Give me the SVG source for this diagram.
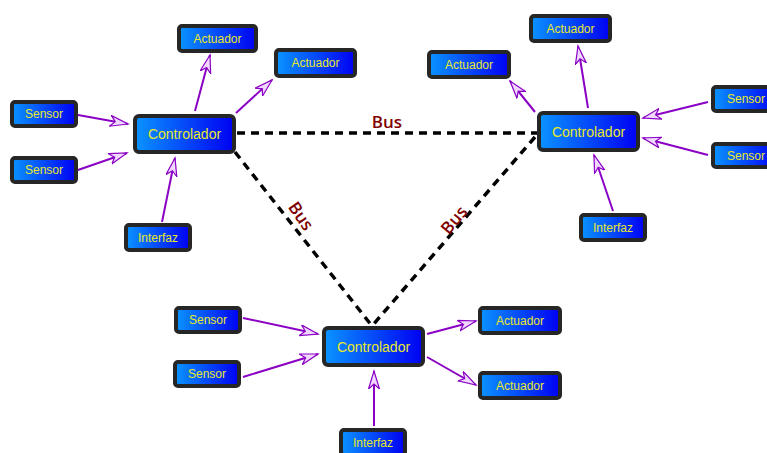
<svg xmlns="http://www.w3.org/2000/svg" width="767" height="453" viewBox="0 0 767 453">
<style>
.box{fill:url(#g);stroke:#262626;stroke-width:4}
.t{font-family:"Liberation Sans",Arial,sans-serif;fill:#e8e82a;text-anchor:middle}
.s{font-size:12px}
.c{font-size:14px}
.a{stroke:#8a00c4;stroke-width:2;fill:none;marker-end:url(#ah)}
.bus{stroke:#000;stroke-width:3.5;stroke-dasharray:8 6;fill:none}
.bl{font-family:"Open Sans","Liberation Sans",Arial,sans-serif;font-weight:600;font-size:17px;fill:#800000;text-anchor:middle}
</style>
<defs>
<linearGradient id="g" x1="0" y1="0" x2="1" y2="0">
<stop offset="0" stop-color="#0a94ff"/>
<stop offset="1" stop-color="#0000f2"/>
</linearGradient>
<marker id="ah" markerUnits="userSpaceOnUse" markerWidth="22" markerHeight="14" refX="18" refY="6" orient="auto">
<path d="M0,0.5 L18,6 L0,11.5 L5,6 Z" fill="#f0d8ff" stroke="#8a00c4" stroke-width="1.2"/>
</marker>
</defs>
<rect width="767" height="453" fill="#fff"/>
<g id="connectors">
<line class="bus" x1="237" y1="133" x2="537" y2="133"/>
<line class="bus" x1="235" y1="152" x2="372" y2="326"/>
<line class="bus" x1="535" y1="137" x2="372" y2="326"/>
<line class="a" x1="78" y1="115" x2="128" y2="124"/>
<line class="a" x1="78" y1="170" x2="127" y2="153"/>
<line class="a" x1="162" y1="222" x2="175" y2="158"/>
<line class="a" x1="195" y1="111" x2="210" y2="55"/>
<line class="a" x1="236" y1="113" x2="272" y2="80"/>
<line class="a" x1="535" y1="112" x2="510" y2="81"/>
<line class="a" x1="588" y1="108" x2="578" y2="46"/>
<line class="a" x1="708" y1="102" x2="643" y2="118"/>
<line class="a" x1="708" y1="155" x2="643" y2="138"/>
<line class="a" x1="613" y1="211" x2="594" y2="155"/>
<line class="a" x1="243" y1="318" x2="318" y2="334"/>
<line class="a" x1="243" y1="377" x2="318" y2="354"/>
<line class="a" x1="427" y1="334" x2="476" y2="321"/>
<line class="a" x1="427" y1="357" x2="476" y2="385"/>
<line class="a" x1="374" y1="426" x2="374" y2="371"/>
<text class="bl" x="387" y="128">Bus</text>
<text class="bl" x="0" y="6" transform="translate(301,216) rotate(55)">Bus</text>
<text class="bl" x="0" y="6" transform="translate(454,220) rotate(-50)">Bus</text>
</g>
<g id="ctrl1"><rect class="box" x="135" y="116" width="99" height="36" rx="4"/><text class="t c" x="184.5" y="139">Controlador</text></g>
<g id="act1a"><rect class="box" x="179" y="26" width="77" height="25" rx="3"/><text class="t s" x="217.5" y="42.5">Actuador</text></g>
<g id="act1b"><rect class="box" x="276" y="50" width="79" height="26" rx="3"/><text class="t s" x="315.5" y="67">Actuador</text></g>
<g id="sen1a"><rect class="box" x="12" y="102" width="64" height="24" rx="3"/><text class="t s" x="44" y="118">Sensor</text></g>
<g id="sen1b"><rect class="box" x="12" y="158" width="64" height="24" rx="3"/><text class="t s" x="44" y="174">Sensor</text></g>
<g id="int1"><rect class="box" x="126" y="225" width="64" height="25" rx="3"/><text class="t s" x="158" y="241.5">Interfaz</text></g>
<g id="ctrl2"><rect class="box" x="539" y="113" width="99" height="37" rx="4"/><text class="t c" x="588.5" y="136.5">Controlador</text></g>
<g id="act2a"><rect class="box" x="531" y="16" width="79" height="25" rx="3"/><text class="t s" x="570.5" y="32.5">Actuador</text></g>
<g id="act2b"><rect class="box" x="429" y="52" width="80" height="25" rx="3"/><text class="t s" x="469" y="68.5">Actuador</text></g>
<g id="sen2a"><rect class="box" x="713" y="87" width="64" height="24" rx="3"/><text class="t s" x="746" y="103">Sensor</text></g>
<g id="sen2b"><rect class="box" x="713" y="144" width="64" height="23" rx="3"/><text class="t s" x="746" y="159.5">Sensor</text></g>
<g id="int2"><rect class="box" x="581" y="215" width="64" height="25" rx="3"/><text class="t s" x="613" y="231.5">Interfaz</text></g>
<g id="ctrl3"><rect class="box" x="324" y="328" width="99" height="37" rx="4"/><text class="t c" x="373.5" y="351.5">Controlador</text></g>
<g id="sen3a"><rect class="box" x="176" y="308" width="64" height="24" rx="3"/><text class="t s" x="208" y="324">Sensor</text></g>
<g id="sen3b"><rect class="box" x="175" y="362" width="64" height="24" rx="3"/><text class="t s" x="207" y="378">Sensor</text></g>
<g id="act3a"><rect class="box" x="480" y="308" width="80" height="25" rx="3"/><text class="t s" x="520" y="324.5">Actuador</text></g>
<g id="act3b"><rect class="box" x="480" y="373" width="80" height="25" rx="3"/><text class="t s" x="520" y="389.5">Actuador</text></g>
<g id="int3"><rect class="box" x="341" y="430" width="64" height="25" rx="3"/><text class="t s" x="373" y="446.5">Interfaz</text></g>
</svg>
